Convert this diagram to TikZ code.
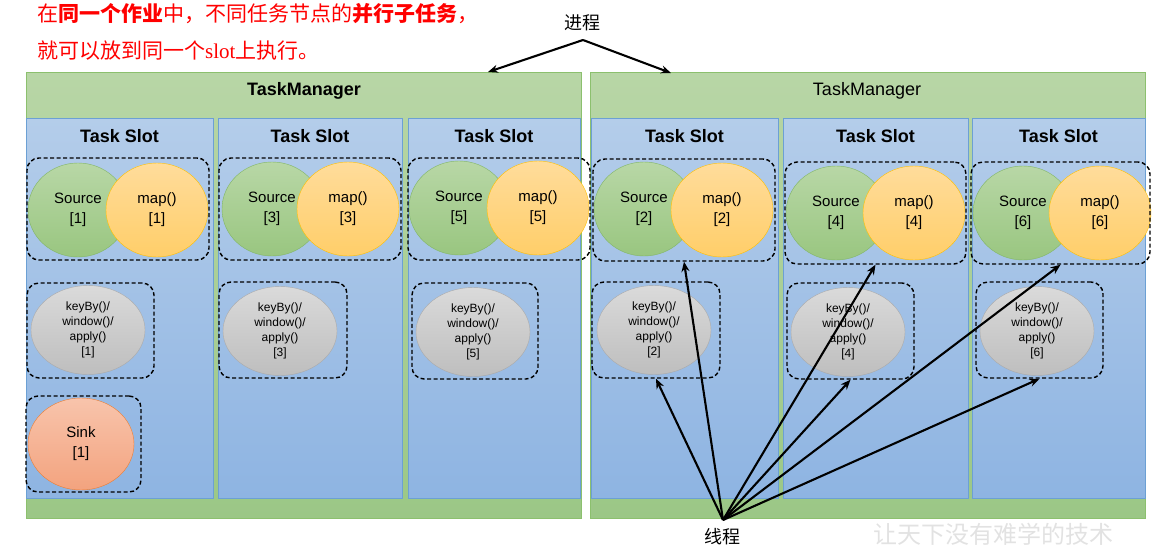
\documentclass[tikz,border=0pt]{standalone}
\usepackage{fontspec}
\setmainfont{Liberation Sans}
\newfontfamily\cjk{Noto Sans CJK SC}
\newfontfamily\slotfont{Liberation Serif}
\usetikzlibrary{arrows.meta,shapes.geometric}

\definecolor{tmtop}{RGB}{184,214,166}
\definecolor{tmbot}{RGB}{155,199,134}
\definecolor{tmline}{RGB}{140,192,110}
\definecolor{slottop}{RGB}{180,205,234}
\definecolor{slotbot}{RGB}{142,180,226}
\definecolor{slotline}{RGB}{108,160,212}
\definecolor{srctop}{RGB}{184,215,166}
\definecolor{srcbot}{RGB}{153,198,128}
\definecolor{srcline}{RGB}{130,182,100}
\definecolor{maptop}{RGB}{255,220,155}
\definecolor{mapbot}{RGB}{255,206,105}
\definecolor{mapline}{RGB}{255,192,0}
\definecolor{keytop}{RGB}{218,218,218}
\definecolor{keybot}{RGB}{190,190,190}
\definecolor{keyline}{RGB}{170,170,170}
\definecolor{sinktop}{RGB}{248,196,172}
\definecolor{sinkbot}{RGB}{243,163,126}
\definecolor{sinkline}{RGB}{237,125,49}
\definecolor{notered}{RGB}{255,0,0}
\definecolor{wmark}{RGB}{226,226,226}

\begin{document}
\begin{tikzpicture}[x=1pt,y=-1pt,>={Stealth[length=10pt,width=8pt]},
	tm/.style={rectangle,draw=tmline,top color=tmtop,bottom color=tmbot,minimum width=555pt,minimum height=446pt,inner sep=0pt},
	slot/.style={rectangle,draw=slotline,top color=slottop,bottom color=slotbot,minimum height=380pt,inner sep=0pt},
	grp/.style={rectangle,draw=black,line width=1.4pt,dash pattern=on 4pt off 2.5pt,rounded corners=12pt,inner sep=0pt},
	op/.style={ellipse,inner sep=0pt,align=center,font=\fontsize{15}{20}\selectfont},
	src/.style={op,draw=srcline,top color=srctop,bottom color=srcbot,minimum width=100pt,minimum height=94pt},
	mapop/.style={op,draw=mapline,top color=maptop,bottom color=mapbot,minimum width=102pt,minimum height=94pt},
	keyop/.style={op,draw=keyline,top color=keytop,bottom color=keybot,minimum width=114pt,minimum height=89pt,font=\fontsize{12}{15}\selectfont},
	sinkop/.style={op,draw=sinkline,top color=sinktop,bottom color=sinkbot,minimum width=106pt,minimum height=92pt},
	title/.style={font=\fontsize{18}{20}\selectfont\bfseries},
	note/.style={font=\cjk\fontsize{21}{24}\selectfont,text=notered,inner sep=0pt,anchor=west},
	arr/.style={->,line width=2.1pt}]

	\useasboundingbox (0,0) rectangle (1163,547);

	% task managers
	\node [tm] at (303.5,295)	(tm_1)	{};
	\node [tm] at (867.5,295)	(tm_2)	{};
	\node [title] at (304,91)	(tmt_1)	{TaskManager};
	\node [font=\fontsize{18}{20}\selectfont] at (867,91)	(tmt_2)	{TaskManager};

	% slots
	\node [slot,minimum width=187pt] at (119.5,308)	(slot_1)	{};
	\node [slot,minimum width=184pt] at (310,308)	(slot_2)	{};
	\node [slot,minimum width=172pt] at (494,308)	(slot_3)	{};
	\node [slot,minimum width=187pt] at (684.5,308)	(slot_4)	{};
	\node [slot,minimum width=185pt] at (875.5,308)	(slot_5)	{};
	\node [slot,minimum width=173pt] at (1058.5,308)	(slot_6)	{};

	\node [title] at (119.5,136)	(st_1)	{Task Slot};
	\node [title] at (310,136)		(st_2)	{Task Slot};
	\node [title] at (494,136)		(st_3)	{Task Slot};
	\node [title] at (684.5,136)	(st_4)	{Task Slot};
	\node [title] at (875.5,136)	(st_5)	{Task Slot};
	\node [title] at (1058.5,136)	(st_6)	{Task Slot};

	% source and map
	\node [src] at (78,210)		(src_1)	{Source\\{[1]}};
	\node [mapop] at (157,210)	(map_1)	{map()\\{[1]}};
	\node [src] at (272,209)	(src_2)	{Source\\{[3]}};
	\node [mapop] at (348,209)	(map_2)	{map()\\{[3]}};
	\node [src] at (459,208)	(src_3)	{Source\\{[5]}};
	\node [mapop] at (538,208)	(map_3)	{map()\\{[5]}};
	\node [src] at (644,209)	(src_4)	{Source\\{[2]}};
	\node [mapop] at (722,210)	(map_4)	{map()\\{[2]}};
	\node [src] at (836,213)	(src_5)	{Source\\{[4]}};
	\node [mapop] at (914,213)	(map_5)	{map()\\{[4]}};
	\node [src] at (1023,213)	(src_6)	{Source\\{[6]}};
	\node [mapop] at (1100,213)	(map_6)	{map()\\{[6]}};

	% keyBy / window / apply
	\node [keyop] at (88,330)	(key_1)	{keyBy()/\\window()/\\apply()\\{[1]}};
	\node [keyop] at (280,331)	(key_2)	{keyBy()/\\window()/\\apply()\\{[3]}};
	\node [keyop] at (473,332)	(key_3)	{keyBy()/\\window()/\\apply()\\{[5]}};
	\node [keyop] at (654,330)	(key_4)	{keyBy()/\\window()/\\apply()\\{[2]}};
	\node [keyop] at (848,332)	(key_5)	{keyBy()/\\window()/\\apply()\\{[4]}};
	\node [keyop] at (1037,331)	(key_6)	{keyBy()/\\window()/\\apply()\\{[6]}};

	\node [sinkop] at (81,444)	(sink_1)	{Sink\\{[1]}};

	% dashed groups
	\node [grp,minimum width=182pt,minimum height=102pt] at (118,209)		(grp_1)	{};
	\node [grp,minimum width=182pt,minimum height=102pt] at (310,209)		(grp_2)	{};
	\node [grp,minimum width=182pt,minimum height=102pt] at (499,209)		(grp_3)	{};
	\node [grp,minimum width=182pt,minimum height=102pt] at (684,210)		(grp_4)	{};
	\node [grp,minimum width=181pt,minimum height=102pt] at (875.5,213)	(grp_5)	{};
	\node [grp,minimum width=179pt,minimum height=102pt] at (1060.5,213)	(grp_6)	{};

	\node [grp,minimum width=127pt,minimum height=95pt] at (90.5,330.5)	(grpk_1)	{};
	\node [grp,minimum width=128pt,minimum height=96pt] at (283,330)		(grpk_2)	{};
	\node [grp,minimum width=126pt,minimum height=96pt] at (475,331)		(grpk_3)	{};
	\node [grp,minimum width=128pt,minimum height=96pt] at (656,330)		(grpk_4)	{};
	\node [grp,minimum width=127pt,minimum height=96pt] at (850.5,331)		(grpk_5)	{};
	\node [grp,minimum width=127pt,minimum height=96pt] at (1039.5,330)	(grpk_6)	{};

	\node [grp,minimum width=115pt,minimum height=96pt] at (83.5,444)		(grps_1)	{};

	% texts
	\node [note] at (37,14)	(note_1)	{在{\bfseries 同一个作业}中，不同任务节点的{\bfseries 并行子任务}，};
	\node [note] at (37,51)	(note_2)	{就可以放到同一个{\slotfont slot}上执行。};
	\node [font=\cjk\fontsize{18}{20}\selectfont] at (582,23)	(proc)	{进程};
	\node [font=\cjk\fontsize{18}{20}\selectfont] at (722,537)	(thr)	{线程};
	\node [font=\cjk\fontsize{24}{26}\selectfont,text=wmark] at (993,534)	(wm)	{让天下没有难学的技术};

	\coordinate (proc_pt) at (583,40);
	\coordinate (thr_pt) at (723,520);
	\coordinate (tm_1_in) at (488,72);
	\coordinate (tm_2_in) at (671,73);

	\path [arr]	(proc_pt)	edge	(tm_1_in)
							edge	(tm_2_in);

	\path [arr]	(thr_pt)	edge	(grpk_4.south)
							edge	(grp_4.south)
							edge	(grp_5.south)
							edge	(grpk_5.south)
							edge	(grp_6.south)
							edge	(grpk_6.south);

\end{tikzpicture}
\end{document}
